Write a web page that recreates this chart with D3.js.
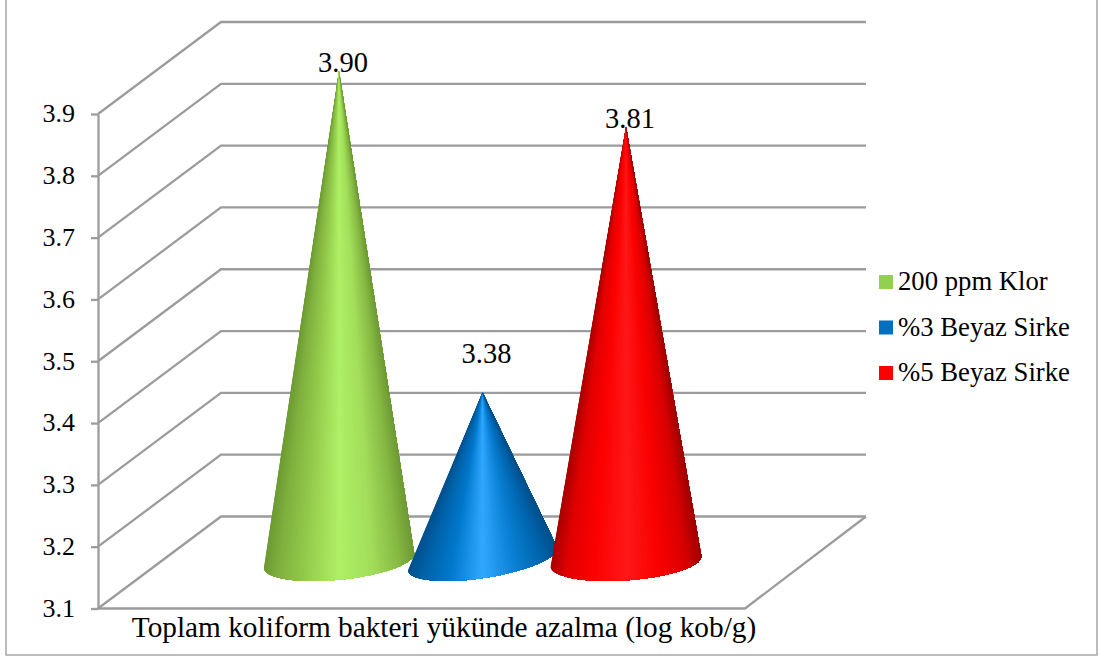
<!DOCTYPE html>
<html>
<head>
<meta charset="utf-8">
<script src="https://cdn.jsdelivr.net/npm/d3@7"></script>
<style>
    body { margin: 0; background: #fff; }
    text { font-family: "Liberation Serif", serif; fill: #000; }
    .axis path, .axis line, .grid { stroke: #9c9c9c; stroke-width: 2.3; fill: none; }
    .axis text { font-size: 26px; fill: #000; }
</style>
</head>
<body>
<svg id="chart" width="1099" height="657"></svg>
<script>
// values
var seriesNames = ["200 ppm Klor", "%3 Beyaz Sirke", "%5 Beyaz Sirke"];
var seriesValues = [3.90, 3.38, 3.81];
var tickValues = [3.1, 3.2, 3.3, 3.4, 3.5, 3.6, 3.7, 3.8, 3.9];
var categoryLabel = "Toplam koliform bakteri yükünde azalma (log kob/g)";

var legendColors = ["#92d050", "#0070c0", "#ff0000"];
// shading across a cone, left edge to right edge
var shadeStops = [0, 0.1, 0.28, 0.5, 0.72, 0.9, 1];
var coneShades = [
    ["#6d9a33", "#80b03e", "#95cc4c", "#aef066", "#a2de5a", "#86b843", "#6e9a35"],
    ["#00508c", "#0062a8", "#0078cc", "#30a8ff", "#0a80d4", "#0064ac", "#004f8a"],
    ["#a80000", "#e00000", "#fc0000", "#ff1818", "#fa0000", "#d80000", "#a00000"]
];
// the base ellipses do not all lean the same way in the 3d view
var baseTilt = [-5.7, -8.8, -4];
var labelLift = [0, 30, 0];

var depthX = 123, depthY = 92;
var coneDepth = 43, baseBottom = 581, baseRx = 75.5, baseRy = 19;

var svg = d3.select("#chart");

var y = d3.scaleLinear().domain([3.1, 3.9]).range([608.5, 114]);
var x = d3.scalePoint().domain(seriesNames).range([339, 626]);

// outer frame
svg.append("path")
    .attr("d", "M6,-2V655H1097V-2")
    .attr("fill", "none")
    .attr("stroke", "#a6a6a6")
    .attr("stroke-width", 1.5);

// gridlines, floor diagonal and back wall
svg.selectAll(".grid")
    .data(tickValues)
    .enter().append("path")
    .attr("class", "grid")
    .attr("d", function (d) {
        return "M98," + y(d) + "L" + (98 + depthX) + "," + (y(d) - depthY) + "H866";
    });
svg.append("path")
    .attr("class", "grid")
    .attr("d", "M98," + y(3.1) + "H745L866," + (y(3.1) - depthY));

var axis = svg.append("g")
    .attr("class", "axis")
    .attr("transform", "translate(98,0)")
    .call(d3.axisLeft(y).tickValues(tickValues).tickFormat(d3.format(".1f")).tickSize(7).tickSizeOuter(0));
axis.selectAll("text").attr("x", -23).attr("dy", "0.3em");

svg.append("text")
    .attr("x", 444)
    .attr("y", 637)
    .attr("text-anchor", "middle")
    .attr("font-size", 29.3)
    .text(categoryLabel);

// data labels sit behind the cone tips
svg.selectAll(".value")
    .data(seriesValues)
    .enter().append("text")
    .attr("class", "value")
    .attr("x", function (d, i) { return x(seriesNames[i]) + 4; })
    .attr("y", function (d, i) { return y(d) - coneDepth + 1 - labelLift[i]; })
    .attr("text-anchor", "middle")
    .attr("font-size", 28.5)
    .text(function (d) { return d.toFixed(2); });

// each cone is a fan of slices so the shading runs into the tip,
// every slice covers all the rim to its right so no seams show
var sliceCount = 90;
seriesValues.forEach(function (value, i) {
    var g = svg.append("g").attr("class", "cone");
    var tilt = baseTilt[i] * Math.PI / 180;
    var reach = Math.sqrt(Math.pow(baseRx * Math.sin(tilt), 2) + Math.pow(baseRy * Math.cos(tilt), 2));
    var cx = x(seriesNames[i]);
    var cy = baseBottom - reach;
    var apexX = cx, apexY = y(value) - coneDepth;
    var shade = d3.scaleLinear().domain(shadeStops).range(coneShades[i]);

    function rim(t) {
        var ex = baseRx * Math.cos(t), ey = baseRy * Math.sin(t);
        return [cx + ex * Math.cos(tilt) - ey * Math.sin(tilt), cy + ex * Math.sin(tilt) + ey * Math.cos(tilt)];
    }

    d3.range(sliceCount).forEach(function (k) {
        var pts = d3.range(k, sliceCount + 1).map(function (j) {
            return rim(Math.PI - Math.PI * j / sliceCount);
        });
        var mid = rim(Math.PI - Math.PI * (k + 0.5) / sliceCount);
        g.append("path")
            .attr("d", "M" + apexX + "," + apexY + "L" + pts.join("L") + "Z")
            .attr("fill", shade((mid[0] - cx + baseRx) / (2 * baseRx)));
    });
});

// legend
var legend = svg.selectAll(".legend")
    .data(seriesNames)
    .enter().append("g")
    .attr("class", "legend")
    .attr("transform", function (d, i) { return "translate(879," + (275 + i * 45.5) + ")"; });
legend.append("rect")
    .attr("width", 14)
    .attr("height", 14)
    .attr("fill", function (d, i) { return legendColors[i]; });
legend.append("text")
    .attr("x", 19)
    .attr("y", 15)
    .attr("font-size", 26.7)
    .text(function (d) { return d; });
</script>
</body>
</html>
